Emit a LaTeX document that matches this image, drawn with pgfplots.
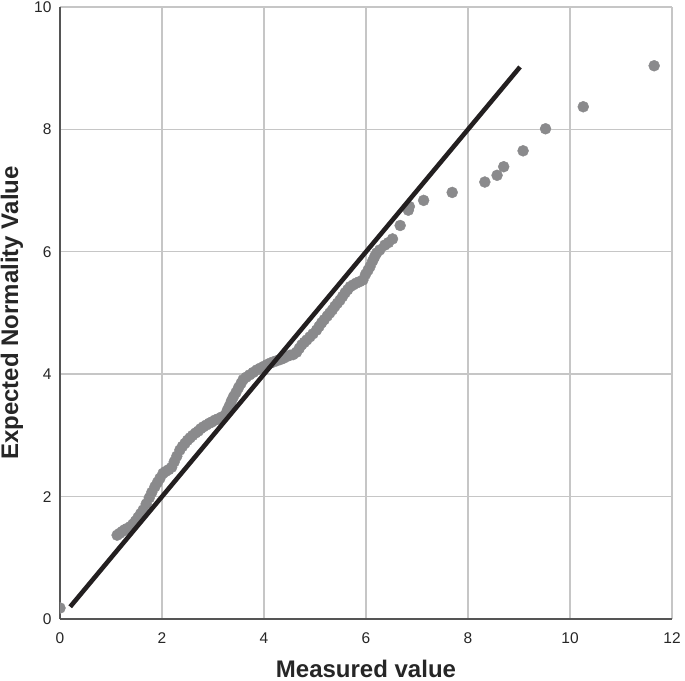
\documentclass[border=0pt]{standalone}
\usepackage{pgfplots}
\pgfplotsset{compat=1.18}
\usepackage{fontspec}
\setmainfont{Liberation Sans}
\definecolor{ptgray}{HTML}{8A8A8C}
\definecolor{linedark}{HTML}{231F20}
\definecolor{gridgray}{HTML}{C6C6C6}
\definecolor{axgray}{HTML}{555555}
\begin{document}
\begin{tikzpicture}
\begin{axis}[
  name=ax,
  scale only axis, width=612bp, height=612bp,
  xmin=0, xmax=12, ymin=0, ymax=10,
  xtick={0,2,...,12}, ytick={0,2,...,10},
  axis x line*=bottom, axis y line*=left,
  axis line style={axgray, line width=1.8bp, -},
  major tick length=0pt,
  grid=major, major grid style={gridgray, line width=1.4bp},
  /pgf/number format/assume math mode=true,
  tick label style={font=\fontsize{15.5bp}{18bp}\selectfont, text=black!85},
  xticklabel style={anchor=north, yshift=-10bp},
  yticklabel style={anchor=east, xshift=-5bp},
  xlabel={\textbf{Measured value}}, ylabel={\textbf{Expected Normality Value}},
  label style={font=\fontsize{24bp}{28bp}\selectfont, text=black!85},
  xlabel style={at={(axis description cs:0.5,0)}, anchor=base, yshift=-58bp},
  ylabel style={at={(axis description cs:-0.0686,0.5)}, anchor=base, rotate=0},
  clip marker paths=true,
]
\addplot[only marks, mark=*, mark size=5.5bp, ptgray, mark options={draw=ptgray, fill=ptgray}] coordinates {
(0.0,0.18)
(1.12,1.37)(1.17,1.40)(1.22,1.43)(1.27,1.46)(1.32,1.48)(1.38,1.51)(1.43,1.55)
(1.48,1.60)(1.53,1.66)(1.58,1.72)(1.63,1.78)
(1.69,1.88)(1.75,1.98)(1.80,2.07)(1.86,2.16)
(1.91,2.23)(1.96,2.30)(2.02,2.38)
(2.07,2.41)(2.13,2.44)(2.19,2.48)
(2.24,2.57)(2.29,2.66)(2.35,2.76)
(2.40,2.82)(2.45,2.87)(2.50,2.92)(2.55,2.96)
(2.60,3.00)(2.66,3.04)(2.71,3.07)(2.76,3.11)(2.81,3.14)
(2.87,3.17)(2.93,3.20)(2.98,3.22)(3.04,3.25)
(3.10,3.27)(3.17,3.30)(3.24,3.33)
(3.28,3.41)(3.32,3.48)(3.36,3.56)(3.40,3.63)
(3.45,3.70)(3.50,3.78)(3.55,3.85)(3.59,3.91)
(3.65,3.95)(3.72,3.99)(3.79,4.03)(3.86,4.07)
(3.93,4.10)(4.00,4.13)(4.07,4.16)(4.12,4.18)(4.18,4.20)
(4.25,4.22)(4.32,4.24)(4.38,4.26)(4.45,4.29)(4.51,4.31)
(4.57,4.32)(4.64,4.36)
(4.69,4.42)(4.74,4.48)(4.79,4.52)(4.84,4.56)
(4.90,4.61)(4.96,4.66)(5.03,4.72)
(5.08,4.78)(5.13,4.84)(5.18,4.89)(5.24,4.95)(5.29,5.00)
(5.34,5.05)(5.39,5.11)(5.44,5.16)(5.49,5.21)
(5.54,5.27)(5.59,5.33)(5.64,5.38)(5.69,5.43)
(5.75,5.46)(5.81,5.49)(5.87,5.51)(5.94,5.54)
(5.99,5.63)(6.04,5.70)(6.08,5.76)
(6.13,5.85)(6.17,5.92)(6.21,5.98)
(6.27,6.03)(6.37,6.11)(6.44,6.15)(6.52,6.21)(6.67,6.43)(6.83,6.68)(6.85,6.74)
(7.13,6.84)(7.69,6.97)(8.33,7.14)(8.57,7.25)(8.70,7.39)(9.08,7.65)(9.52,8.01)
(10.26,8.37)(11.65,9.04)
};
\addplot[linedark, line width=4.6bp, no marks] coordinates {(0.2,0.2)(9.02,9.02)};
\end{axis}
\pgfresetboundingbox
\path ([shift={(-60bp,-62bp)}]ax.south west) rectangle ([shift={(13bp,7bp)}]ax.north east);
\end{tikzpicture}
\end{document}
